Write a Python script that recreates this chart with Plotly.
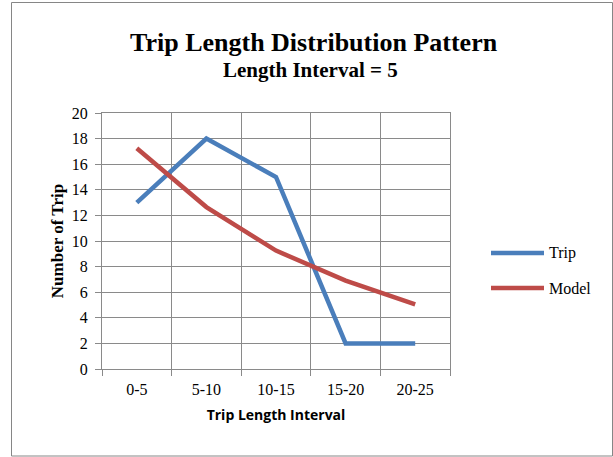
import plotly.graph_objects as go

categories = ["0-5", "5-10", "10-15", "15-20", "20-25"]
trip = [13, 18, 15, 2, 2]
model = [17.25, 12.65, 9.25, 6.9, 5.05]
y_ticks = list(range(0, 21, 2))
series_names = ["Trip", "Model"]
series_colors = ["#4A7EBB", "#BE4B48"]

W, H = 613, 457
L, R, T, B = 102, 450, 113, 369

def px(x):
    return (x - L) / (R - L)

def py(y):
    return (B - y) / (B - T)

serif = "Liberation Serif, Times New Roman, serif"

fig = go.Figure()
for name, vals, col in zip(series_names, [trip, model], series_colors):
    fig.add_trace(go.Scatter(x=categories, y=vals, name=name, mode="lines",
                             line=dict(color=col, width=4.5), showlegend=False))

# legend drawn manually (long line samples like the reference)
legend_shapes = []
legend_annots = []
for i, (name, col) in enumerate(zip(series_names, series_colors)):
    yy = 253 + 35 * i
    legend_shapes.append(dict(type="line", xref="paper", yref="paper",
                              x0=px(491), x1=px(544), y0=py(yy), y1=py(yy),
                              line=dict(color=col, width=4.5)))
    legend_annots.append(dict(text=name, xref="paper", yref="paper",
                              x=px(547), y=py(yy), xanchor="left", yanchor="middle",
                              showarrow=False, font=dict(family=serif, size=16, color="black")))

fig.update_layout(
    width=W, height=H,
    margin=dict(l=L, r=W - R, t=T, b=H - B),
    paper_bgcolor="white", plot_bgcolor="white",
    font=dict(family=serif, size=16, color="black"),
    showlegend=False,
    xaxis=dict(
        type="category", tickson="boundaries", showgrid=True,
        gridcolor="#8A8A8A", gridwidth=1,
        ticks="outside", ticklen=6, tickcolor="#8A8A8A",
        showline=True, linecolor="#8A8A8A", mirror=True,
        tickfont=dict(family=serif, size=16),
        ticklabelstandoff=6,
        title=dict(text="<b>Trip Length Interval</b>",
                   font=dict(family="Open Sans, Liberation Sans, sans-serif", size=14),
                   standoff=12),
        range=[-0.5, 4.5],
    ),
    yaxis=dict(
        range=[0, 20], tickvals=y_ticks, showgrid=True,
        gridcolor="#8A8A8A", gridwidth=1,
        ticks="outside", ticklen=6, tickcolor="#8A8A8A",
        showline=True, linecolor="#8A8A8A", mirror=True,
        zeroline=False,
        tickfont=dict(family=serif, size=16),
        ticklabelstandoff=4,
        title=dict(text="<b>Number of Trip</b>",
                   font=dict(family=serif, size=17), standoff=3),
    ),
    annotations=[
        dict(text="<b>Trip Length Distribution Pattern</b>", xref="paper", yref="paper",
             x=px(314), y=py(42), xanchor="center", yanchor="middle", showarrow=False,
             font=dict(family=serif, size=26, color="black")),
        dict(text="<b>Length Interval = 5</b>", xref="paper", yref="paper",
             x=px(310), y=py(70), xanchor="center", yanchor="middle", showarrow=False,
             font=dict(family=serif, size=21, color="black")),
    ] + legend_annots,
    shapes=[
        dict(type="rect", xref="paper", yref="paper",
             x0=px(11.5), x1=px(612.5), y0=py(456), y1=py(2.5),
             line=dict(color="#868686", width=1), fillcolor="rgba(0,0,0,0)", layer="below"),
    ] + legend_shapes,
)

fig.write_html("out.html")
